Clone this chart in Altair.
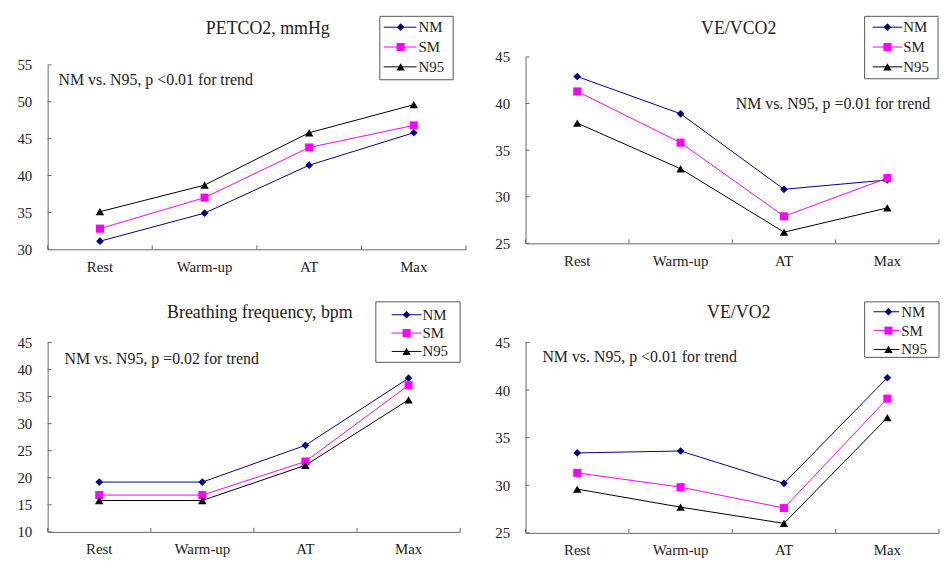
import altair as alt
import pandas as pd

# ---------------- data ----------------
stages = ["Rest", "Warm-up", "AT", "Max"]
series_names = ["NM", "SM", "N95"]

petco2_nm = [31.1, 34.9, 41.4, 45.8]
petco2_sm = [32.8, 37.0, 43.8, 46.8]
petco2_n95 = [35.1, 38.7, 45.8, 49.6]

vevco2_nm = [42.9, 38.9, 30.8, 31.8]
vevco2_sm = [41.3, 35.8, 27.9, 32.0]
vevco2_n95 = [37.9, 33.0, 26.2, 28.8]

bf_nm = [19.2, 19.2, 26.0, 38.4]
bf_sm = [16.8, 16.8, 23.0, 37.1]
bf_n95 = [15.8, 15.8, 22.3, 34.4]

vevo2_nm = [33.4, 33.6, 30.2, 41.3]
vevo2_sm = [31.3, 29.8, 27.6, 39.1]
vevo2_n95 = [29.6, 27.7, 26.0, 37.1]

titles = ["PETCO2, mmHg", "VE/VCO2", "Breathing  frequency, bpm", "VE/VO2"]
notes = [
    "NM vs. N95, p <0.01 for trend",
    "NM vs. N95, p =0.01 for trend",
    "NM vs. N95, p =0.02 for trend",
    "NM vs. N95, p <0.01 for trend",
]
petco2_ticks = [30, 35, 40, 45, 50, 55]
vevco2_ticks = [25, 30, 35, 40, 45]
bf_ticks = [10, 15, 20, 25, 30, 35, 40, 45]
vevo2_ticks = [25, 30, 35, 40, 45]

# ---------------- styles ----------------
series_colors = ["#000080", "#FF00FF", "#000000"]
series_shapes = ["diamond", "square", "triangle-up"]
marker_sizes = [60, 72, 58]
FONT = "Liberation Serif"
AXIS_COLOR = "#666666"


def make_panel(vals, title, ticks, note, L):
    rows = []
    for name, arr in zip(series_names, vals):
        for i, (s, v) in enumerate(zip(stages, arr)):
            rows.append({"stage": s, "series": name, "value": v, "k": i})
    df = pd.DataFrame(rows)

    w, h = L["w"], L["h"]
    xs = alt.Scale(type="band", domain=stages, paddingInner=0, paddingOuter=0)
    ys = alt.Scale(domain=[ticks[0], ticks[-1]], range=[h, L["top"]], zero=False, nice=False)
    xaxis = alt.Axis(title=None, labelAngle=0, ticks=False, tickSize=0, labelPadding=10,
                     labelFont=FONT, labelFontSize=15, labelColor="#222222",
                     domainColor=AXIS_COLOR, grid=False)
    yaxis = alt.Axis(title=None, values=ticks, ticks=False, tickSize=0, labelPadding=16,
                     labelFont=FONT, labelFontSize=15, labelColor="#222222",
                     domainColor=AXIS_COLOR, grid=False)

    def X(bp=0.5):
        return alt.X("stage:N", scale=xs, sort=stages, bandPosition=bp, axis=xaxis)

    Y = alt.Y("value:Q", scale=ys, axis=yaxis)
    color = alt.Color("series:N", scale=alt.Scale(domain=series_names, range=series_colors), legend=None)
    shape = alt.Shape("series:N", scale=alt.Scale(domain=series_names, range=series_shapes), legend=None)
    size = alt.Size("series:N", scale=alt.Scale(domain=series_names, range=marker_sizes), legend=None)

    lines = alt.Chart(df).mark_line(strokeWidth=1).encode(
        x=X(), y=Y, color=color, order="k:Q")
    points = alt.Chart(df).mark_point(filled=True, opacity=1).encode(
        x=X(), y=Y, color=color, shape=shape, size=size)

    ytick = alt.Chart(pd.DataFrame({"value": ticks})).mark_rule(
        color=AXIS_COLOR, strokeWidth=1).encode(y=Y, x=alt.value(0), x2=alt.value(4))
    xtick_df = pd.DataFrame({"stage": stages})
    xtick = alt.Chart(xtick_df).mark_rule(color=AXIS_COLOR, strokeWidth=1).encode(
        x=X(0), y=alt.value(h), y2=alt.value(h - 4))
    xtick_end = alt.Chart(xtick_df[xtick_df.stage == stages[-1]]).mark_rule(
        color=AXIS_COLOR, strokeWidth=1).encode(x=X(1), y=alt.value(h), y2=alt.value(h - 4))

    one = pd.DataFrame({"t": [title], "n": [note]})
    ttl = alt.Chart(one).mark_text(font=FONT, fontSize=18, color="#222222",
                                   align="center", baseline="middle").encode(
        x=alt.value(L["tx"]), y=alt.value(L["ty"]), text="t:N")
    nt = alt.Chart(one).mark_text(font=FONT, fontSize=16, color="#222222",
                                  align="left", baseline="middle").encode(
        x=alt.value(L["nx"]), y=alt.value(L["ny"]), text="n:N")

    box = alt.Chart(one).mark_rect(fill="white", stroke="#555555", strokeWidth=1).encode(
        x=alt.value(L["bx0"]), x2=alt.value(L["bx1"]), y=alt.value(L["by0"]), y2=alt.value(L["by1"]))

    leg_df = pd.DataFrame({"series": series_names, "idx": [0, 1, 2]})
    leg = alt.Chart(leg_df).transform_calculate(
        ly=f"{L['ly0']} + datum.idx * {L['lstep']}")
    LY = alt.Y("ly:Q", scale=None)
    leg_line = leg.mark_rule(strokeWidth=1).encode(
        x=alt.value(L["lx0"]), x2=alt.value(L["lx1"]), y=LY, color=color)
    leg_pt = leg.mark_point(filled=True, opacity=1).encode(
        x=alt.value(L["mx"]), y=LY, color=color, shape=shape, size=size)
    leg_txt = leg.mark_text(font=FONT, fontSize=15, color="#222222",
                            align="left", baseline="middle").encode(
        x=alt.value(L["tx2"]), y=LY, text="series:N")

    return alt.layer(lines, points, ytick, xtick, xtick_end, ttl, nt,
                     box, leg_line, leg_pt, leg_txt).properties(width=w, height=h)


L1 = dict(w=422, h=194, top=8, tx=222, ty=-28, nx=11, ny=23,
          bx0=335, bx1=409, by0=-41, by1=23, ly0=-30, lstep=20,
          lx0=339, lx1=372, mx=356, tx2=374)
L2 = dict(w=417, h=188, top=0, tx=215, ty=-28, nx=212, ny=48,
          bx0=342, bx1=416, by0=-41, by1=22, ly0=-30, lstep=20,
          lx0=350, lx1=380, mx=365, tx2=381)
L3 = dict(w=416, h=191, top=0, tx=214, ty=-30, nx=17, ny=17,
          bx0=331, bx1=416, by0=-41, by1=20, ly0=-28, lstep=18.5,
          lx0=347, lx1=377, mx=362, tx2=378)
L4 = dict(w=417, h=192, top=0, tx=215, ty=-30, nx=17, ny=15,
          bx0=342, bx1=417, by0=-41, by1=15, ly0=-31, lstep=19,
          lx0=351, lx1=377, mx=366, tx2=379)

p1 = make_panel([petco2_nm, petco2_sm, petco2_n95], titles[0], petco2_ticks, notes[0], L1)
p2 = make_panel([vevco2_nm, vevco2_sm, vevco2_n95], titles[1], vevco2_ticks, notes[1], L2)
p3 = make_panel([bf_nm, bf_sm, bf_n95], titles[2], bf_ticks, notes[2], L3)
p4 = make_panel([vevo2_nm, vevo2_sm, vevo2_n95], titles[3], vevo2_ticks, notes[3], L4)

chart = alt.concat(p1, p2, p3, p4, columns=2, spacing={"row": 94, "column": 60},
                   bounds="flush").properties(
    padding={"left": 9, "top": 5, "right": 0, "bottom": 0},
    background="white",
).configure_view(stroke=None)

chart.save("out.html", embed_options={"renderer": "svg", "actions": False})
